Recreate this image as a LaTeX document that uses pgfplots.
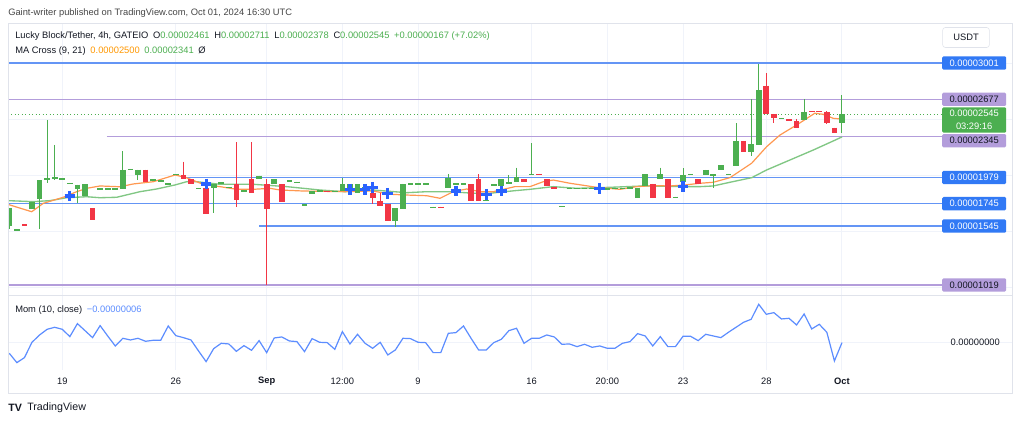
\documentclass[border=0pt]{standalone}
\usepackage{pgfplots}
\pgfplotsset{compat=1.18}
\usepackage{pgfplotstable}
\usepackage{fontspec}
\setmainfont{Liberation Sans}
\definecolor{cgreen}{RGB}{76,175,80}
\definecolor{cred}{RGB}{242,54,69}
\definecolor{cblue}{RGB}{41,98,255}
\definecolor{lblue}{RGB}{100,149,245}
\definecolor{lpurple}{RGB}{179,157,219}
\definecolor{boxblue}{RGB}{49,121,245}
\definecolor{maorange}{RGB}{255,152,80}
\definecolor{magreen}{RGB}{129,199,132}
\definecolor{momblue}{RGB}{92,141,255}
\definecolor{gridc}{RGB}{240,243,250}
\definecolor{framec}{RGB}{224,227,235}
\definecolor{txt}{RGB}{19,23,34}
\definecolor{txtgrey}{RGB}{70,70,70}
\definecolor{valgreen}{RGB}{76,175,80}
\definecolor{valorange}{RGB}{255,152,0}
\newcommand{\fs}{\fontsize{7}{8.4}\selectfont}
\tikzset{
  lvl/.style={line width=1pt},
  pl/.style={anchor=west, minimum width=48pt, minimum height=10pt, inner sep=0pt,
             font=\fs, rounded corners=1pt},
}
\pgfplotsset{
  candle/.style n args={2}{draw=none, mark=none, forget plot,
    error bars/.cd, y dir=minus, y explicit, error mark=none,
    error bar style={draw=#1, line width=#2}},
}

% up (green) candles, prices in 1e-8 USDT
\pgfplotstableread{
i o h l c
0 1546 1706 1519 1706
1 1505 1515 1505 1515
3 1697 1764 1697 1764
4 1787 1956 1519 1956
5 1960 2492 1930 1970
6 1969 2269 1956 1979
7 1960 1970 1960 1970
8 1920 1930 1920 1930
9 1876 1916 1755 1916
10 1813 1918 1813 1918
12 1871 1881 1871 1881
13 1871 1881 1871 1881
14 1871 1881 1871 1881
15 1876 2215 1876 2046
16 2045 2055 2045 2055
17 2001 2050 1956 2050
19 1951 1961 1951 1961
20 1942 1952 1942 1952
21 1916 1926 1916 1926
22 2002 2012 2002 2012
25 1877 1887 1877 1887
27 1882 1918 1659 1918
28 1925 1935 1925 1935
29 1885 1895 1885 1895
31 1853 1863 1853 1863
33 1963 1995 1963 1995
35 1918 1963 1918 1963
37 1942 1952 1942 1952
38 1931 1941 1931 1941
39 1728 1738 1728 1738
40 1831 1858 1831 1858
41 1853 1863 1853 1863
43 1847 1857 1847 1857
44 1858 1972 1858 1918
45 1858 1918 1858 1918
46 1843 1918 1843 1918
47 1880 1890 1880 1890
51 1590 1704 1539 1704
52 1700 1921 1700 1921
53 1916 1926 1916 1926
54 1916 1926 1916 1926
55 1916 1926 1916 1926
56 1708 1718 1708 1718
58 1882 2010 1882 1977
59 1916 1926 1916 1926
60 1916 1926 1916 1926
63 1767 1777 1767 1777
64 1907 1917 1907 1917
65 1906 1965 1906 1965
66 1918 2001 1918 1936
67 1941 2066 1941 1986
69 2002 2284 2002 2012
73 1713 1723 1713 1723
74 1877 1887 1877 1887
75 1877 1887 1877 1887
76 1877 1887 1877 1887
77 1877 1887 1877 1887
78 1877 1887 1877 1887
79 1871 1881 1871 1881
80 1875 1885 1875 1885
81 1875 1885 1875 1885
82 1880 1890 1880 1890
83 1793 1888 1793 1888
84 1906 2007 1906 2007
86 1963 2066 1963 2007
88 1797 1807 1797 1807
89 1941 2061 1941 2001
90 2002 2012 2002 2012
92 2001 2046 2001 2046
93 1996 2006 1888 2006
94 2046 2090 2046 2090
95 2002 2012 2002 2012
96 2084 2463 2084 2305
98 2204 2680 2173 2275
99 2269 2989 2269 2760
102 2502 2512 2502 2512
105 2492 2680 2492 2561
110 2461 2711 2378 2545
}\upT

% down (red) candles
\pgfplotstableread{
i o h l c
2 1560 1560 1550 1550
11 1706 1706 1596 1596
18 2050 2050 1936 1936
23 2001 2120 1963 1963
24 1963 1963 1918 1918
26 1882 1882 1650 1650
30 1918 2293 1713 1778
32 1963 2293 1843 1843
34 1918 1963 1019 1697
36 1918 1918 1763 1763
42 1857 1857 1847 1847
48 1843 1843 1742 1798
49 1769 1843 1727 1727
50 1739 1739 1593 1593
57 1718 1718 1708 1708
61 1918 1918 1772 1772
62 1963 2007 1772 1772
68 1965 1965 1941 1941
70 2012 2012 2002 2002
71 1965 1965 1906 1906
72 1897 1897 1876 1876
85 1921 1921 1798 1798
87 1965 1965 1798 1798
91 1963 1963 1918 1918
97 2305 2305 2204 2204
100 2798 2909 2546 2546
101 2546 2546 2463 2507
103 2497 2497 2487 2487
104 2483 2501 2418 2418
106 2571 2571 2561 2561
107 2571 2571 2561 2561
108 2561 2572 2454 2468
109 2423 2423 2373 2373
}\dnT

% MA 9 (orange)
\pgfplotstableread{
i p
-0.2 1739
2.96 1673
4.49 1748
7.13 1802
8.9 1852
10.22 1882
11.98 1903
14.62 1896
16.38 1921
19.02 1941
21.9 2001
23.4 1977
25.6 1918
27.83 1897
30.04 1873
32.2 1873
34.44 1882
35.76 1867
38.8 1858
44.3 1852
48.05 1858
50.3 1829
52.5 1822
55.14 1816
56.9 1793
58.65 1852
60.42 1876
62.18 1852
63.94 1852
66.8 1897
68.78 1897
70.54 1941
71.86 1956
74.07 1927
77.6 1891
80.67 1873
82.88 1897
85.07 1906
87.28 1903
89.26 1912
91.24 1927
93.0 1936
95.2 1977
98.07 2106
100.05 2254
101.81 2358
104.0 2447
106.4 2552
107.5 2543
108.85 2507
110 2500
}\maF

% MA 21 (green)
\pgfplotstableread{
i p
-0.2 1772
3.17 1763
5.38 1772
7.58 1798
10.22 1807
11.98 1798
14.19 1802
17.27 1852
19.47 1876
21.89 1912
23.43 1941
24.76 1941
27.83 1918
32.23 1918
36.64 1897
41.04 1867
44.35 1852
48.05 1867
52.5 1843
55.14 1852
58.22 1852
61.3 1838
63.5 1838
66.8 1861
68.78 1873
71.86 1897
74.95 1882
79.35 1891
83.75 1903
89.26 1897
91.24 1897
93.0 1903
95.2 1936
98.07 1977
100.05 2046
103.13 2135
106.21 2224
108.85 2305
110 2341
}\maS

% MA cross markers
\pgfplotstableread{
i p
8 1813
26 1921
45 1873
47 1873
48 1891
50 1838
59 1858
63 1829
65 1858
78 1882
89 1900
}\crossT

% Momentum (10, close), 1e-8 USDT
\pgfplotstableread{
i m
0 -198
1 -366
2 -276
3 0
4 132
5 234
6 270
7 234
8 102
9 336
10 210
11 84
12 300
13 114
14 -66
15 72
16 42
17 72
18 18
19 36
20 36
21 294
22 120
23 84
24 42
25 -156
26 -348
27 -114
28 -18
29 -30
30 -162
31 -60
32 -144
33 30
34 -186
35 78
36 96
37 24
38 12
39 -168
40 66
41 0
42 -6
43 -126
44 192
45 -30
46 144
47 -18
48 -108
49 0
50 -228
51 -138
52 72
53 66
54 0
55 -6
56 -186
57 -186
58 162
59 174
60 294
61 72
62 -138
63 -138
64 -6
65 54
66 210
67 252
68 -18
69 72
70 72
71 132
72 96
73 -36
74 -30
75 -78
76 -36
77 -90
78 -66
79 -108
80 -108
81 -18
82 12
83 156
84 114
85 -66
86 102
87 -78
88 -78
89 108
90 108
91 30
92 144
93 114
94 84
95 180
96 270
97 360
98 414
99 684
100 504
101 534
102 420
103 432
104 312
105 510
106 240
107 324
108 180
109 -336
110 -6
}\momT

\begin{document}
\begin{tikzpicture}[x=0.75pt,y=0.75pt]
\fill[white] (0,0) rectangle (1024,424);
\useasboundingbox (0,0) rectangle (1024,424);

\begin{axis}[
  at={(6pt,96pt)}, anchor=south west, scale only axis,
  width=753pt, height=204pt,
  xmin=-0.17, xmax=132.46, ymin=920.6, ymax=3349.2,
  axis line style={framec, line width=0.75pt},
  xtick={7,22,34,44,54,69,79,89,100,110}, xticklabels={},
  ytick={1000,1500,2000,2500,3000}, yticklabels={},
  major tick length=0pt,
  grid=major, major grid style={gridc, line width=0.75pt},
  clip=true,
]
% horizontal levels
\draw[lvl, lblue]   (axis cs:-0.17,3001) -- (axis cs:123.2,3001);
\draw[lvl, lpurple] (axis cs:-0.17,2677) -- (axis cs:123.2,2677);
\draw[cgreen, dotted, line width=0.6pt] (axis cs:-0.17,2545) -- (axis cs:123.2,2545);
\draw[lvl, lpurple] (axis cs:12.9,2345) -- (axis cs:123.2,2345);
\draw[lvl, lblue]   (axis cs:22.8,1979) -- (axis cs:123.2,1979);
\draw[lvl, lblue]   (axis cs:-0.17,1745) -- (axis cs:123.2,1745);
\draw[lvl, lblue]   (axis cs:33,1545) -- (axis cs:123.2,1545);
\draw[lvl, lpurple] (axis cs:-0.17,1019) -- (axis cs:123.2,1019);

% moving averages
\addplot[magreen, line width=1pt, forget plot] table[x=i, y=p] {\maS};
\addplot[maorange, line width=0.9pt, forget plot] table[x=i, y=p] {\maF};

% wicks
\addplot[candle={cgreen}{0.75pt}]
  table[x=i, y=h, y error minus expr=\thisrow{h}-\thisrow{l}] {\upT};
\addplot[candle={cred}{0.75pt}]
  table[x=i, y=h, y error minus expr=\thisrow{h}-\thisrow{l}] {\dnT};
% bodies
\addplot[candle={cgreen}{4.3pt}]
  table[x=i, y=c, y error minus expr=\thisrow{c}-\thisrow{o}] {\upT};
\addplot[candle={cred}{4.3pt}]
  table[x=i, y=o, y error minus expr=\thisrow{o}-\thisrow{c}] {\dnT};

% cross markers
\addplot[only marks, mark=+, mark size=4pt, line width=2.4pt, cblue, forget plot]
  table[x=i, y=p] {\crossT};

% price scale labels
\node[pl, fill=boxblue, text=white] at (axis cs:123.2,3001) {0.00003001};
\node[pl, fill=lpurple, text=txt]   at (axis cs:123.2,2677) {0.00002677};
\node[anchor=west, minimum width=48pt, minimum height=19pt, inner sep=0pt,
      fill=cgreen, text=white, align=center, font=\fontsize{7}{9.5}\selectfont,
      rounded corners=1pt] at (axis cs:123.2,2492) {0.00002545\\03:29:16};
\node[pl, fill=lpurple, text=txt]   at (axis cs:123.2,2307) {0.00002345};
\node[pl, fill=boxblue, text=white] at (axis cs:123.2,1979) {0.00001979};
\node[pl, fill=boxblue, text=white] at (axis cs:123.2,1745) {0.00001745};
\node[pl, fill=boxblue, text=white] at (axis cs:123.2,1545) {0.00001545};
\node[pl, fill=lpurple, text=txt]   at (axis cs:123.2,1019) {0.00001019};
\end{axis}

\begin{axis}[
  at={(6pt,40.5pt)}, anchor=south west, scale only axis,
  width=753pt, height=55.5pt,
  xmin=-0.17, xmax=132.46, ymin=-498.6, ymax=833.4,
  axis line style={draw=none},
  xtick={7,22,34,44,54,69,79,89,100,110},
  xticklabels={19,26,\textbf{Sep},12:00,9,16,20:00,23,28,\textbf{Oct}},
  xticklabel style={font=\fs, text=txt, anchor=center, yshift=-8.25pt},
  ytick={0}, yticklabels={},
  major tick length=0pt,
  grid=major, major grid style={gridc, line width=0.75pt},
]
\addplot[momblue, line width=0.9pt, forget plot] table[x=i, y=m] {\momT};
\node[font=\fs, text=txt] at (axis cs:127.6,0) {0.00000000};
\end{axis}

% outer frame
\draw[framec, line width=0.75pt] (8,30) rectangle (1012,400);

% texts
\node[anchor=west, inner sep=0pt, font=\fs, text=txtgrey] at (8,411)
  {Gaint-writer published on TradingView.com, Oct 01, 2024 16:30 UTC};
\node[anchor=west, inner sep=0pt, font=\fs, text=txt] at (15,387.5)
  {Lucky Block/Tether, 4h, GATEIO\enspace O\textcolor{valgreen}{0.00002461}\enspace H\textcolor{valgreen}{0.00002711}\enspace L\textcolor{valgreen}{0.00002378}\enspace C\textcolor{valgreen}{0.00002545}\enspace \textcolor{valgreen}{+0.00000167 (+7.02\%)}};
\node[anchor=west, inner sep=0pt, font=\fs, text=txt] at (15,373)
  {MA Cross (9, 21)\enspace \textcolor{valorange}{0.00002500}\enspace \textcolor{valgreen}{0.00002341}\enspace Ø};
\node[anchor=west, inner sep=0pt, font=\fs, text=txt] at (15,114)
  {Mom (10, close)\enspace \textcolor{momblue}{−0.00000006}};
\node[draw=framec, fill=white, rounded corners=2pt, minimum width=35pt, minimum height=15pt,
      inner sep=0pt, font=\fs, text=txt] at (966,386.5) {USDT};
\node[anchor=west, inner sep=0pt, font=\fontsize{8}{9}\selectfont\bfseries, text=txt] at (8,16) {TV};
\node[anchor=west, inner sep=0pt, font=\fontsize{8}{9}\selectfont, text=txt] at (27,16) {TradingView};
\end{tikzpicture}
\end{document}
